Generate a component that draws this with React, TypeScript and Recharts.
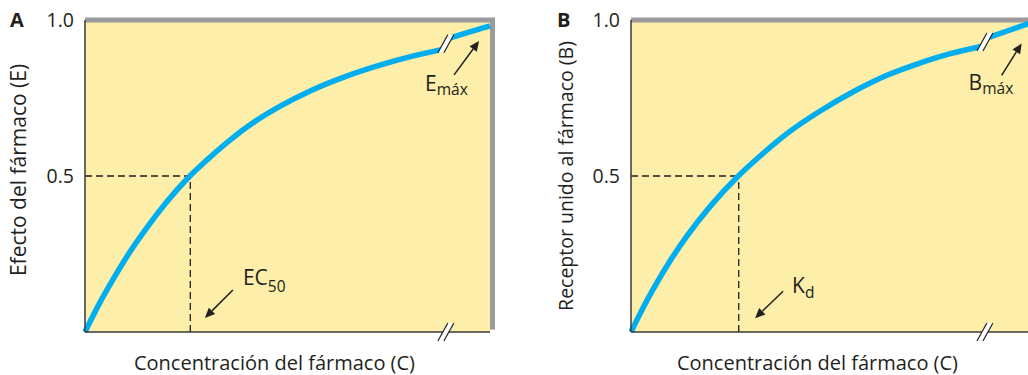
import React from 'react';
import { LineChart, Line, XAxis, YAxis, ReferenceArea, ReferenceLine, ReferenceDot } from 'recharts';

// panel A: drug concentration vs effect (split at the axis break)
const concA1 = [0, 3.5, 7, 11, 15.2, 20, 25.9, 30, 35.8, 42, 48.1, 56, 64.6, 73, 81.1, 88.3];
const effectA1 = [0, 0.09, 0.17, 0.255, 0.333, 0.414, 0.5, 0.55, 0.615, 0.675, 0.723, 0.775, 0.82, 0.856, 0.885, 0.906];
const concA2 = [90, 95, 100];
const effectA2 = [0.942, 0.962, 0.981];

// panel B: drug concentration vs bound receptor
const concB1 = [0, 3, 5.6, 9.5, 14, 20, 26.9, 32, 39, 47, 55.7, 64, 72.4, 80, 87.8];
const boundB1 = [0, 0.077, 0.138, 0.222, 0.307, 0.405, 0.5, 0.56, 0.635, 0.705, 0.77, 0.822, 0.862, 0.892, 0.915];
const concB2 = [89.6, 95, 100];
const boundB2 = [0.944, 0.968, 0.99];

const yTicks = [0.5, 1.0];
const ec50 = 26;
const kd = 27;
const breakA = 89.1;
const breakB = 88.7;

const INK = '#231F20';
const GREY = '#9B9B9D';
const PAPER = '#FDEEA9';
const BLUE = '#00AEEF';
const FONT = '"Open Sans", "Noto Sans", sans-serif';

const BreakMark = (props: any) => {
  const { cx, cy } = props;
  const a = 5, h = 9, g = 3;
  return (
    <g>
      <polygon
        points={`${cx - g - a},${cy + h} ${cx - g + a},${cy - h} ${cx + g + a},${cy - h} ${cx + g - a},${cy + h}`}
        fill="#fff"
      />
      <line x1={cx - g - a} y1={cy + h} x2={cx - g + a} y2={cy - h} stroke={INK} strokeWidth={1.2} />
      <line x1={cx + g - a} y1={cy + h} x2={cx + g + a} y2={cy - h} stroke={INK} strokeWidth={1.2} />
    </g>
  );
};

// arrow pointing at (cx, cy) from an offset tail, with a subscripted label
const arrowShape = (tail: number[], text: string, sub: string, at: number[], subDy: number) => (props: any) => {
  const { cx, cy } = props;
  const x0 = cx + tail[0];
  const y0 = cy + tail[1];
  const len = Math.hypot(tail[0], tail[1]);
  const ux = -tail[0] / len;
  const uy = -tail[1] / len;
  const hl = 10, hw = 4.5;
  const bx = cx - ux * hl;
  const by = cy - uy * hl;
  const pts = `${cx},${cy} ${bx - uy * hw},${by + ux * hw} ${bx + uy * hw},${by - ux * hw}`;
  return (
    <g>
      <line x1={x0} y1={y0} x2={bx} y2={by} stroke={INK} strokeWidth={1.5} />
      <polygon points={pts} fill={INK} />
      <text x={cx + at[0]} y={cy + at[1]} fill={INK} fontSize={21} fontFamily={FONT}>
        {text}
        <tspan fontSize={15.5} dy={subDy}>{sub}</tspan>
      </text>
    </g>
  );
};

const topBorder = (p: any) => (
  <line x1={p.x1} y1={p.y1} x2={p.x2 + 5} y2={p.y2} stroke={GREY} strokeWidth={5} />
);
const rightBorder = (p: any) => (
  <line x1={p.x1 + 2.5} y1={p.y1 - 2.5} x2={p.x2 + 2.5} y2={p.y2} stroke={GREY} strokeWidth={5} />
);

type Note = { tip: number[]; tail: number[]; text: string; sub: string; at: number[]; dy: number };

type PanelProps = {
  letter: string;
  yLabel: string;
  yLabelSize: number;
  conc1: number[];
  vals1: number[];
  conc2: number[];
  vals2: number[];
  half: number;
  brk: number;
  axisWidth: number;
  labelX: number;
  labelY: number;
  lowArrow: Note;
  highArrow: Note;
};

const Panel = (p: PanelProps) => {
  const data = [
    ...p.conc1.map((c, i) => ({ c, pre: p.vals1[i] })),
    ...p.conc2.map((c, i) => ({ c, post: p.vals2[i] })),
  ];
  const brkY = (p.vals1[p.vals1.length - 1] + p.vals2[0]) / 2;
  const yLabelEl = (
    <g>
      <text x={p.labelX - 8} y={27} fontSize={20} fontWeight="bold" fill={INK} fontFamily={FONT}>{p.letter}</text>
      <text
        x={p.labelX}
        y={p.labelY}
        transform={`rotate(-90 ${p.labelX} ${p.labelY})`}
        textAnchor="middle"
        dominantBaseline="central"
        fontSize={p.yLabelSize}
        fill={INK}
        fontFamily={FONT}
      >
        {p.yLabel}
      </text>
    </g>
  );
  return (
    <LineChart width={500} height={375} data={data} margin={{ top: 20, right: 10, bottom: 0, left: 0 }}>
      <XAxis
        type="number"
        dataKey="c"
        domain={[0, 100]}
        tick={false}
        tickLine={false}
        height={43}
        axisLine={{ stroke: '#3a3a3a', strokeWidth: 1.5 }}
        label={{ value: 'Concentración del fármaco (C)', position: 'insideBottom', offset: 5, dx: -13, fill: INK, fontSize: 20, fontFamily: FONT }}
      />
      <YAxis
        type="number"
        domain={[0, 1]}
        ticks={yTicks}
        width={p.axisWidth}
        tickLine={false}
        tickMargin={5}
        tickFormatter={(v: number) => v.toFixed(1)}
        tick={{ fill: INK, fontSize: 19.5, fontFamily: FONT }}
        axisLine={{ stroke: '#3a3a3a', strokeWidth: 1.5 }}
        label={yLabelEl}
      />
      <ReferenceArea x1={0} x2={100} y1={0} y2={1} fill={PAPER} fillOpacity={1} stroke="none" />
      <ReferenceLine y={1} shape={topBorder} />
      <ReferenceLine x={100} shape={rightBorder} />
      <ReferenceLine segment={[{ x: 0, y: 0.5 }, { x: p.half, y: 0.5 }]} stroke={INK} strokeWidth={1.3} strokeDasharray="7 4" />
      <ReferenceLine segment={[{ x: p.half, y: 0 }, { x: p.half, y: 0.5 }]} stroke={INK} strokeWidth={1.3} strokeDasharray="7 4" />
      <Line type="monotone" dataKey="pre" stroke={BLUE} strokeWidth={5.5} dot={false} isAnimationActive={false} />
      <Line type="monotone" dataKey="post" stroke={BLUE} strokeWidth={5.5} dot={false} isAnimationActive={false} />
      <ReferenceDot x={p.brk} y={brkY} r={1} shape={BreakMark} />
      <ReferenceDot x={p.brk} y={0} r={1} shape={BreakMark} ifOverflow="visible" />
      <ReferenceDot
        x={p.lowArrow.tip[0]}
        y={p.lowArrow.tip[1]}
        r={1}
        shape={arrowShape(p.lowArrow.tail, p.lowArrow.text, p.lowArrow.sub, p.lowArrow.at, p.lowArrow.dy)}
      />
      <ReferenceDot
        x={p.highArrow.tip[0]}
        y={p.highArrow.tip[1]}
        r={1}
        shape={arrowShape(p.highArrow.tail, p.highArrow.text, p.highArrow.sub, p.highArrow.at, p.highArrow.dy)}
      />
    </LineChart>
  );
};

export default function App() {
  return (
    <div style={{ position: 'absolute', left: 0, top: 0, width: 1028, height: 375, overflow: 'hidden', background: '#fff' }}>
      <div style={{ position: 'absolute', left: 0, top: 0 }}>
        <Panel
          letter="A"
          yLabel="Efecto del fármaco (E)"
          yLabelSize={21}
          conc1={concA1}
          vals1={effectA1}
          conc2={concA2}
          vals2={effectA2}
          half={ec50}
          brk={breakA}
          axisWidth={85}
          labelX={18}
          labelY={170}
          lowArrow={{ tip: [29.6, 0.045], tail: [28, -28], text: 'EC', sub: '50', at: [38, -33], dy: 7 }}
          highArrow={{ tip: [97.3, 0.933], tail: [-25, 34], text: 'E', sub: 'máx', at: [-54, 50], dy: 4 }}
        />
      </div>
      <div style={{ position: 'absolute', left: 540, top: 0 }}>
        <Panel
          letter="B"
          yLabel="Receptor unido al fármaco (B)"
          yLabelSize={19.5}
          conc1={concB1}
          vals1={boundB1}
          conc2={concB2}
          vals2={boundB2}
          half={kd}
          brk={breakB}
          axisWidth={91}
          labelX={25}
          labelY={176}
          lowArrow={{ tip: [31.1, 0.044], tail: [28, -27], text: 'K', sub: 'd', at: [37, -25], dy: 5 }}
          highArrow={{ tip: [97.9, 0.925], tail: [-20, 32], text: 'B', sub: 'máx', at: [-53, 47], dy: 4 }}
        />
      </div>
    </div>
  );
}
